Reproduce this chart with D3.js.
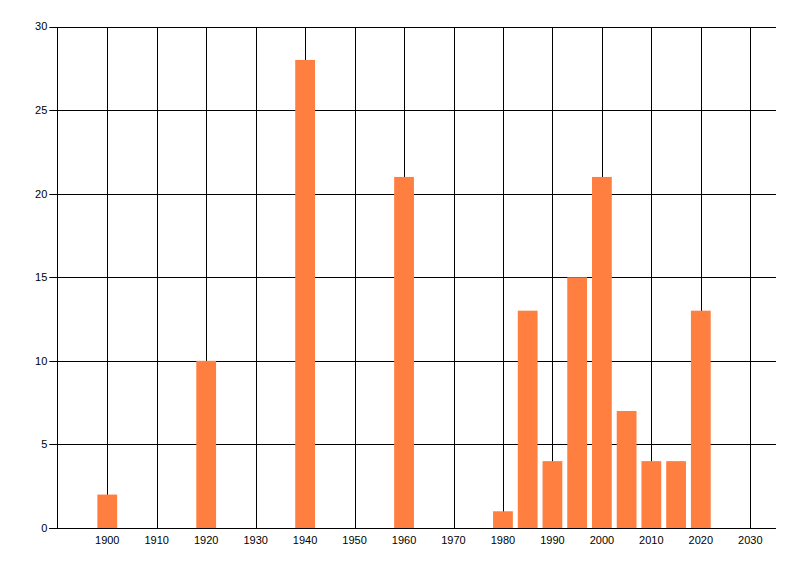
<!DOCTYPE html>
<html>
<head>
<meta charset="utf-8">
<script src="https://cdn.jsdelivr.net/npm/d3@7"></script>
<style>
  html, body { margin: 0; padding: 0; background: #fff; }
  svg text { font-family: "Liberation Sans", "DejaVu Sans", sans-serif; font-size: 11px; fill: #000; }
</style>
</head>
<body>
<svg id="chart" width="800" height="576"></svg>
<script>
// 年份与数值
const years = [1900, 1920, 1940, 1960, 1980, 1985, 1990, 1995, 2000, 2005, 2010, 2015, 2020];
const counts = [2, 10, 28, 21, 1, 13, 4, 15, 21, 7, 4, 4, 13];
const xTicks = [1900, 1910, 1920, 1930, 1940, 1950, 1960, 1970, 1980, 1990, 2000, 2010, 2020, 2030];
const yTicks = [0, 5, 10, 15, 20, 25, 30];

const svg = d3.select('#chart');
const plotL = 57.3, plotR = 776, plotT = 26.5, plotB = 528;
const x = d3.scaleLinear().domain([1889.9, 2035.2]).range([plotL, plotR]);
const y = d3.scaleLinear().domain([0, 30]).range([plotB, plotT]);
const barW = x(1904) - x(1900);
const px = (v) => Math.round(v) + 0.5;

// 网格线
svg.append('g').selectAll('line').data(xTicks).enter().append('line')
  .attr('x1', (d) => px(x(d))).attr('x2', (d) => px(x(d)))
  .attr('y1', px(plotT)).attr('y2', px(plotB))
  .attr('stroke', '#000').attr('stroke-width', 1);
svg.append('g').selectAll('line').data(yTicks).enter().append('line')
  .attr('x1', plotL - 8).attr('x2', plotR)
  .attr('y1', (d) => px(y(d))).attr('y2', (d) => px(y(d)))
  .attr('stroke', '#000').attr('stroke-width', 1);
// y 轴线
svg.append('line').attr('x1', px(plotL)).attr('x2', px(plotL))
  .attr('y1', px(plotT)).attr('y2', px(plotB)).attr('stroke', '#000');

// 柱
svg.append('g').selectAll('rect').data(years).enter().append('rect')
  .attr('x', (d) => x(d) - barW / 2).attr('width', barW)
  .attr('y', (_, i) => y(counts[i])).attr('height', (_, i) => y(0) - y(counts[i]))
  .attr('fill', '#FF7F41');

// 基线重绘
svg.append('line').attr('x1', plotL - 8).attr('x2', plotR)
  .attr('y1', px(y(0))).attr('y2', px(y(0))).attr('stroke', '#000');

// 标签
svg.append('g').selectAll('text').data(yTicks).enter().append('text')
  .attr('x', plotL - 10).attr('y', (d) => y(d)).attr('dy', '0.35em')
  .attr('text-anchor', 'end').text((d) => d);
svg.append('g').selectAll('text').data(xTicks).enter().append('text')
  .attr('x', (d) => x(d)).attr('y', plotB + 12).attr('dy', '0.35em')
  .attr('text-anchor', 'middle').text((d) => d);
</script>
</body>
</html>
